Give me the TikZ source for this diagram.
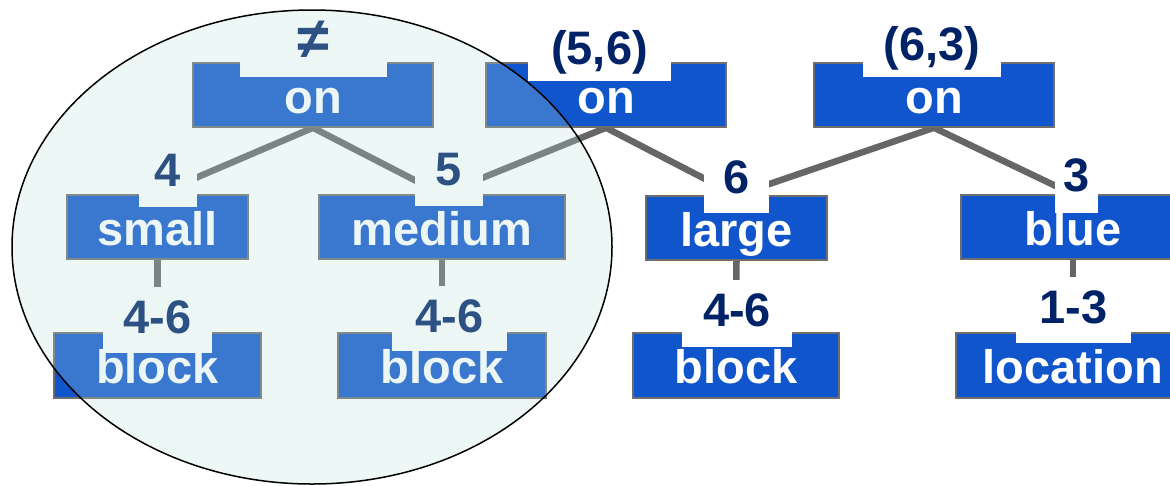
\documentclass[tikz,border=0pt]{standalone}
\usepackage{fontspec}
\setmainfont{Liberation Sans}
\usetikzlibrary{shapes.geometric}
\definecolor{boxblue}{HTML}{1155CC}
\definecolor{navy}{HTML}{002266}
\definecolor{linegray}{HTML}{666666}
\definecolor{bordergray}{HTML}{6E6E6E}
\definecolor{hlfill}{RGB}{182,222,219}
\pgfdeclarelayer{bg}
\pgfsetlayers{bg,main}
\begin{document}
\begin{tikzpicture}[x=1pt,y=-1pt,
  bigfont/.style={font=\bfseries\fontsize{47}{47}\selectfont},
  box/.style={bigfont, draw=bordergray, line width=1.5pt, fill=boxblue, text=white,
    text height=36pt, text depth=0pt, inner sep=0pt, minimum height=64pt},
  tab/.style={bigfont, fill=white, text=navy, anchor=base, inner xsep=0pt, inner ysep=0pt,
    text height=46pt},
  conn/.style={draw=linegray, line width=6.5pt},
  hl/.style={ellipse, draw=black, line width=1.5pt, fill=hlfill, fill opacity=0.25,
    minimum width=600pt, minimum height=474pt, inner sep=0pt}]
\useasboundingbox (0,0) rectangle (1170,485);
\clip (0,0) rectangle (1170,485);

% boxes
\node[box, minimum width=240pt] (on1) at (313,95) {on};
\node[box, minimum width=240pt] (on2) at (606,95) {on};
\node[box, minimum width=240pt] (on3) at (934,95) {on};
\node[box, minimum width=181pt] (small) at (157.5,227) {small};
\node[box, minimum width=246pt] (medium) at (442,227) {medium};
\node[box, minimum width=181pt] (large) at (736.5,228) {large};
\node[box, minimum width=224pt] (blue) at (1073,227) {blue};
\node[box, minimum width=207pt, minimum height=65pt] (blockL) at (157.5,365.5) {block};
\node[box, minimum width=208pt, minimum height=65pt] (blockM) at (442,365.5) {block};
\node[box, minimum width=206pt, minimum height=65pt] (blockR) at (736,365.5) {block};
\node[box, minimum width=234pt, minimum height=65pt] (location) at (1073,365.5) {location};

% labels with white tabs
\node[tab, minimum width=147pt, text height=30pt, text depth=18.5pt, font=\bfseries\fontsize{58}{58}\selectfont] (lneq) at (313.5,58.5) {≠};
\node[tab, minimum width=143pt, text depth=17pt] (l56) at (599.5,64) {(5,6)};
\node[tab, minimum width=138pt, text depth=17pt] (l63) at (932,60) {(6,3)};
\node[tab, minimum width=58pt, text depth=21pt] (l4) at (168,186) {4};
\node[tab, minimum width=68pt, text depth=21pt] (l5) at (449,185) {5};
\node[tab, minimum width=65pt, text depth=20pt] (l6) at (736.5,193) {6};
\node[tab, minimum width=43pt, text depth=22pt] (l3) at (1076.5,191) {3};
\node[tab, minimum width=109pt, text depth=20pt] (l46a) at (157.5,333) {4-6};
\node[tab, minimum width=115pt, text depth=19pt] (l46b) at (449.5,332) {4-6};
\node[tab, minimum width=110pt, text depth=21pt] (l46c) at (737,326) {4-6};
\node[tab, minimum width=115pt, text depth=20pt] (l13) at (1073.5,323) {1-3};

% connectors
\begin{pgfonlayer}{bg}
\draw[conn] (on1.south) -- (small.north);
\draw[conn] (on1.south) -- (medium.north);
\draw[conn] (on2.south) -- (medium.north);
\draw[conn] (on2.south) -- (large.north);
\draw[conn] (on3.south) -- (large.north);
\draw[conn] (on3.south) -- (blue.north);
\draw[conn] (small.south) -- (blockL.north);
\draw[conn] (medium.south) -- (blockM.north);
\draw[conn] (large.south) -- (blockR.north);
\draw[conn] (blue.south) -- (location.north);
\end{pgfonlayer}

% highlight ellipse
\node[hl] (group) at (312,247) {};
\end{tikzpicture}
\end{document}
